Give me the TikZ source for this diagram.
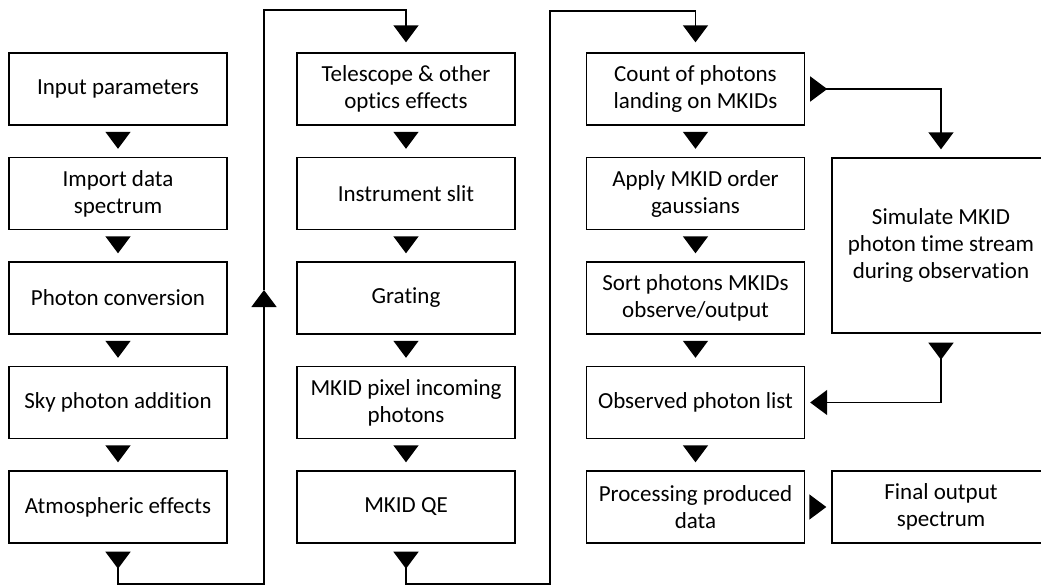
\documentclass[tikz,border=0pt]{standalone}
\usepackage{fontspec}
\setmainfont{Carlito}[Ligatures = NoCommon]
\usetikzlibrary{positioning, arrows.meta, calc}
\tikzset{
stage/.style = {rectangle, draw, line width = 0.7pt, minimum width = 109pt,
   minimum height = 36pt, inner sep = 2pt, align = center,
   font = \fontsize{11.5pt}{13.5pt}\selectfont},
flow/.style = {-{Triangle[length = 8.5pt, width = 12.5pt]}, line width = 0.8pt,
   shorten < = 4pt, shorten > = 4pt},
branch/.style = {{Triangle[length = 8.5pt, width = 12.5pt, reversed]}-{Triangle[length = 8.5pt, width = 12.5pt]},
   line width = 0.8pt},
link/.style = {-{Triangle[length = 8.5pt, width = 12.5pt]}, line width = 0.8pt}
}

\begin{document}
\begin{tikzpicture}[x = 0.5pt, y = -0.5pt]
\clip (0,0) rectangle (1041,585);

%% Stages, one column at a time
\foreach \t [count = \i] in {Input parameters, {Import data\\spectrum}, Photon conversion,
   Sky photon addition, Atmospheric effects}
   \node [stage] (a\i) at (118, {89 + 104.5*(\i - 1)}) {\t};

\foreach \t [count = \i] in {{Telescope \& other\\optics effects}, Instrument slit, Grating,
   {MKID pixel incoming\\photons}, MKID QE}
   \node [stage] (b\i) at (406, {89 + 104.5*(\i - 1)}) {\t};

\foreach \t [count = \i] in {{Count of photons\\landing on MKIDs}, {Apply MKID order\\gaussians},
   {Sort photons MKIDs\\observe/output}, Observed photon list, {Processing produced\\data}}
   \node [stage] (c\i) at (695.5, {89 + 104.5*(\i - 1)}) {\t};

\node [stage, minimum height = 87.5pt] (d1) at (941, 245.5) {Simulate MKID\\photon time stream\\during observation};
\node [stage] (d2) at (941, 507) {Final output\\spectrum};

%% Steps down each column
\foreach \i [evaluate = \i as \j using int(\i + 1)] in {1,...,4}
   \foreach \c in {a,b,c}
      \draw [flow] (\c\i.south) -- (\c\j.north);

%% Column to column
\coordinate (up) at (264, 290);
\draw [branch, shorten < = 4pt] (a5.south) -- ++(0, 40) -| (up);
\draw [link, shorten > = 5pt] (up) -- ++(0, -280) -| (b1.north);
\draw [branch, shorten < = 4pt, shorten > = 5pt] (b5.south) -- ++(0, 40) -| ++(144, -573) -| (c1.north);

%% Time stream side branch
\draw [branch, shorten < = 2.5pt, shorten > = 4pt] (c1.east) -| (d1.north);
\draw [branch, shorten < = 4.5pt, shorten > = 2.5pt] (d1.south) |- (c4.east);
\draw [flow, shorten < = 2.5pt, shorten > = 2.5pt] (c5.east) -- (d2.west);

\end{tikzpicture}
\end{document}
